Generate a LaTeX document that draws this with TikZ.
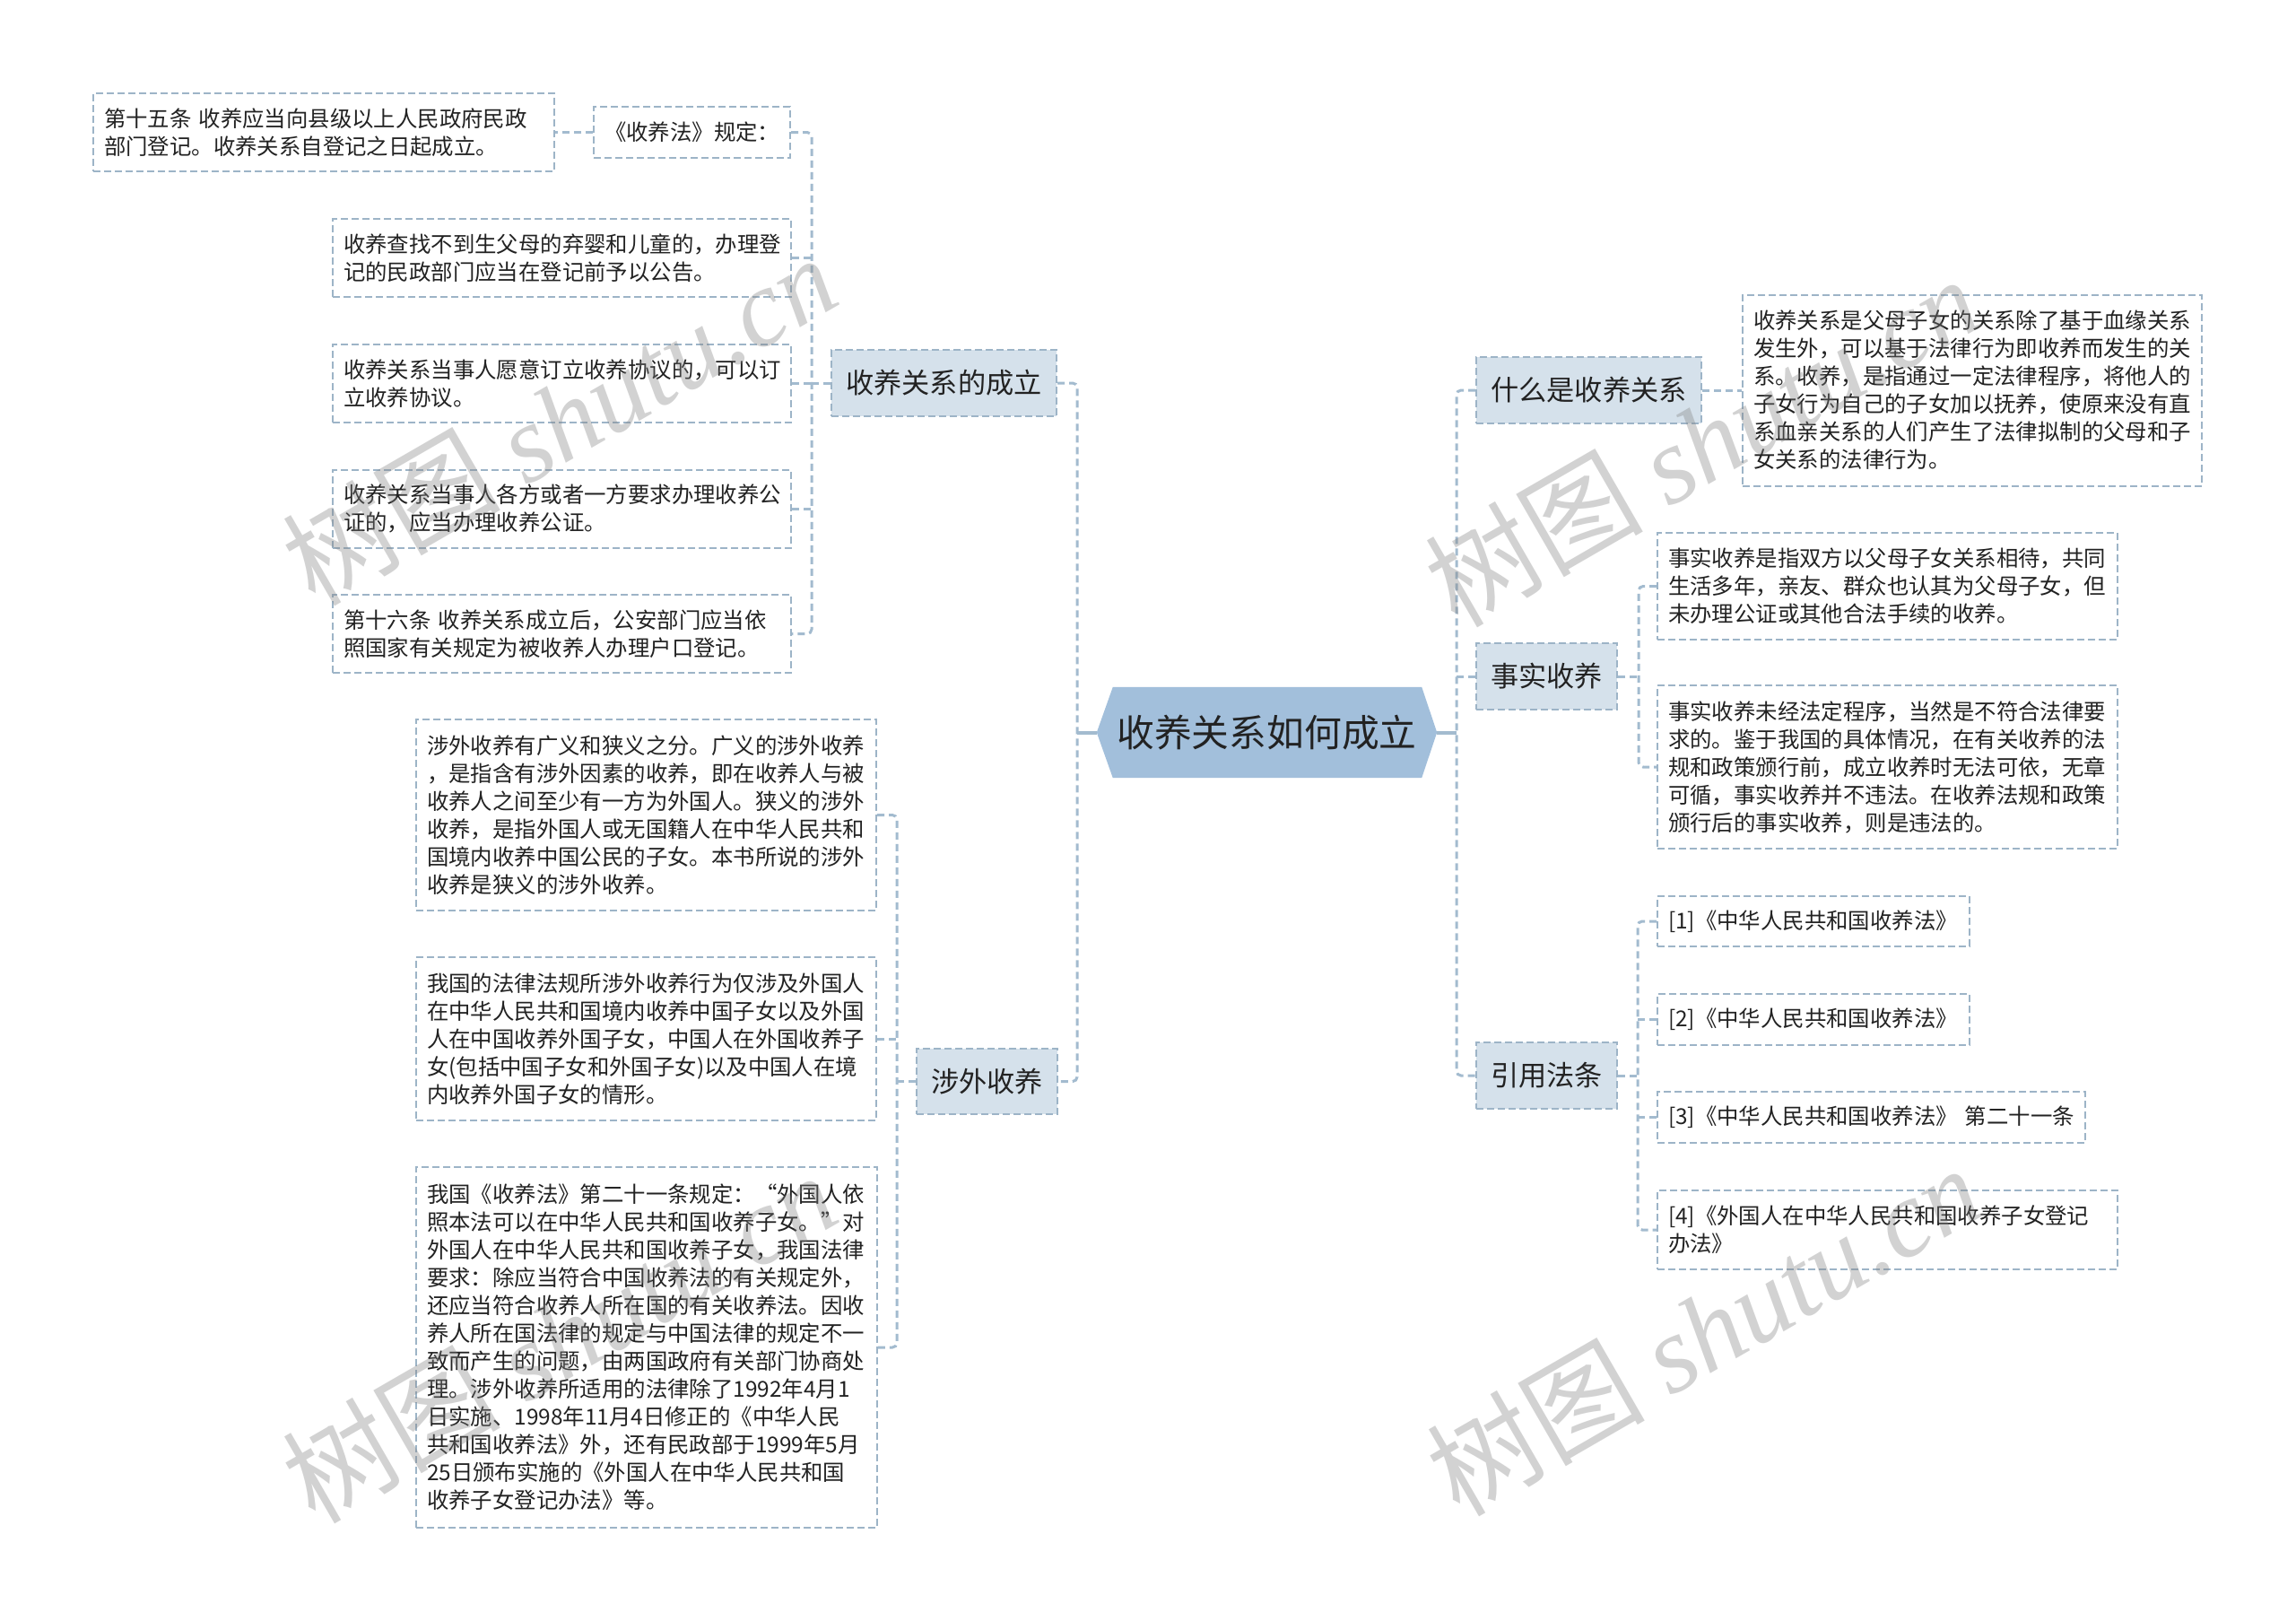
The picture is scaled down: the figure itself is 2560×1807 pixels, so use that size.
\documentclass[tikz,border=0pt]{standalone}
\usepackage{fontspec}
\setmainfont{Noto Sans CJK SC}
\newfontfamily\wmcjk{Noto Sans CJK SC}
\newfontfamily\wmlatin{Liberation Serif}
\usetikzlibrary{backgrounds}
\definecolor{linkc}{HTML}{A3BBCF}
\definecolor{boxc}{HTML}{9DB4C7}
\definecolor{lvfill}{HTML}{D5E1EB}
\definecolor{rootfill}{HTML}{A2BFDB}
\definecolor{txt}{HTML}{222222}
\begin{document}
\begin{tikzpicture}[x=1pt,y=-1pt,
  link/.style={draw=linkc, line width=3pt, dash pattern=on 8pt off 5pt, rounded corners=5pt},
  rootlink/.style={draw=linkc, line width=4pt},
  leaf/.style={draw=boxc, line width=2pt, dash pattern=on 8pt off 4pt, fill=white, inner xsep=12pt, inner ysep=0pt, align=left, text=txt, font=\fontsize{24.4}{31}\selectfont},
  lvone/.style={draw=boxc, line width=2pt, dash pattern=on 8pt off 4pt, fill=lvfill, inner sep=0pt, text=txt, font=\fontsize{31.2}{38}\selectfont},
  rootnode/.style={inner sep=0pt, text=txt, font=\fontsize{41.8}{50}\selectfont},
  wm/.style={text=black!50, opacity=0.35, rotate=30, anchor=base west, inner sep=0pt, font=\fontsize{122}{122}\selectfont}
]
\useasboundingbox (0,0) rectangle (2560,1807);

% root
\node[rootnode, minimum width=379pt, minimum height=101pt] (root) at (1412.5,816.5) {收养关系如何成立};
\begin{scope}[on background layer]
\fill[white] (0,0) rectangle (2560,1807);
\fill[rootfill] (root.west) -- ([xshift=18pt]root.north west) -- ([xshift=-17pt]root.north east) -- (root.east) -- ([xshift=-17pt]root.south east) -- ([xshift=18pt]root.south west) -- cycle;
\end{scope}

% level one
\node[lvone, minimum width=251pt, minimum height=74pt] (A) at (1052.5,427) {收养关系的成立};
\node[lvone, minimum width=157pt, minimum height=73pt] (B) at (1100.5,1205.5) {涉外收养};
\node[lvone, minimum width=251pt, minimum height=74pt] (C) at (1771.5,435) {什么是收养关系};
\node[lvone, minimum width=157pt, minimum height=74pt] (D) at (1724.5,754) {事实收养};
\node[lvone, minimum width=157pt, minimum height=74pt] (E) at (1724.5,1199) {引用法条};

% leaves of A
\node[leaf, minimum width=219pt, minimum height=57pt, text width=195pt] (a1) at (771.5,147.5) {《收养法》规定：};
\node[leaf, minimum width=514pt, minimum height=87pt, text width=490pt] (a1x) at (361,147.5) {第十五条~收养应当向县级以上人民政府民政\\部门登记。收养关系自登记之日起成立。};
\node[leaf, minimum width=511pt, minimum height=87pt, text width=487pt] (a2) at (626.5,287.5) {收养查找不到生父母的弃婴和儿童的，办理登\\记的民政部门应当在登记前予以公告。};
\node[leaf, minimum width=511pt, minimum height=87pt, text width=487pt] (a3) at (626.5,427.5) {收养关系当事人愿意订立收养协议的，可以订\\立收养协议。};
\node[leaf, minimum width=511pt, minimum height=87pt, text width=487pt] (a4) at (626.5,567) {收养关系当事人各方或者一方要求办理收养公\\证的，应当办理收养公证。};
\node[leaf, minimum width=511pt, minimum height=87pt, text width=487pt] (a5) at (626.5,706.5) {第十六条~收养关系成立后，公安部门应当依\\照国家有关规定为被收养人办理户口登记。};

% leaves of B
\node[leaf, minimum width=513pt, minimum height=213pt, text width=489pt] (b1) at (720.5,908.5) {涉外收养有广义和狭义之分。广义的涉外收养\\，是指含有涉外因素的收养，即在收养人与被\\收养人之间至少有一方为外国人。狭义的涉外\\收养，是指外国人或无国籍人在中华人民共和\\国境内收养中国公民的子女。本书所说的涉外\\收养是狭义的涉外收养。};
\node[leaf, minimum width=513pt, minimum height=182pt, text width=489pt] (b2) at (720.5,1158) {我国的法律法规所涉外收养行为仅涉及外国人\\在中华人民共和国境内收养中国子女以及外国\\人在中国收养外国子女，中国人在外国收养子\\女(包括中国子女和外国子女)以及中国人在境\\内收养外国子女的情形。};
\node[leaf, minimum width=514pt, minimum height=402pt, text width=490pt] (b3) at (721,1502) {我国《收养法》第二十一条规定：“外国人依\\照本法可以在中华人民共和国收养子女。”对\\外国人在中华人民共和国收养子女，我国法律\\要求：除应当符合中国收养法的有关规定外，\\还应当符合收养人所在国的有关收养法。因收\\养人所在国法律的规定与中国法律的规定不一\\致而产生的问题，由两国政府有关部门协商处\\理。涉外收养所适用的法律除了1992年4月1\\日实施、1998年11月4日修正的《中华人民\\共和国收养法》外，还有民政部于1999年5月\\25日颁布实施的《外国人在中华人民共和国\\收养子女登记办法》等。};

% leaf of C
\node[leaf, minimum width=512pt, minimum height=213pt, text width=488pt] (c1) at (2199,435) {收养关系是父母子女的关系除了基于血缘关系\\发生外，可以基于法律行为即收养而发生的关\\系。收养，是指通过一定法律程序，将他人的\\子女行为自己的子女加以抚养，使原来没有直\\系血亲关系的人们产生了法律拟制的父母和子\\女关系的法律行为。};

% leaves of D
\node[leaf, minimum width=513pt, minimum height=119pt, text width=489pt] (d1) at (2104.5,653.5) {事实收养是指双方以父母子女关系相待，共同\\生活多年，亲友、群众也认其为父母子女，但\\未办理公证或其他合法手续的收养。};
\node[leaf, minimum width=513pt, minimum height=182pt, text width=489pt] (d2) at (2104.5,855) {事实收养未经法定程序，当然是不符合法律要\\求的。鉴于我国的具体情况，在有关收养的法\\规和政策颁行前，成立收养时无法可依，无章\\可循，事实收养并不违法。在收养法规和政策\\颁行后的事实收养，则是违法的。};

% leaves of E
\node[leaf, minimum width=348pt, minimum height=56pt, text width=324pt] (e1) at (2022,1027) {[1]《中华人民共和国收养法》};
\node[leaf, minimum width=348pt, minimum height=57pt, text width=324pt] (e2) at (2022,1136.5) {[2]《中华人民共和国收养法》};
\node[leaf, minimum width=477pt, minimum height=57pt, text width=453pt] (e3) at (2086.5,1245.5) {[3]《中华人民共和国收养法》~第二十一条};
\node[leaf, minimum width=513pt, minimum height=88pt, text width=489pt] (e4) at (2104.5,1371) {[4]《外国人在中华人民共和国收养子女登记\\办法》};

% junctions
\coordinate (jL) at (1201,816.5);
\coordinate (jR) at (1624,816.5);
\coordinate (ja) at (905,427);
\coordinate (jB) at (1000,1205.5);
\coordinate (jD) at (1827,754);
\coordinate (jE) at (1826,1199);

% root links
\draw[rootlink] (root.west) -- (jL);
\draw[rootlink] (root.east) -- (jR);
\draw[link] (A.east) -| (jL) |- (B.east);
\draw[link] (C.west) -| (jR) |- (E.west);
\draw[link] (D.west) -- (D.west -| jR);

% A children
\draw[link] (A.west) -- (ja);
\draw[link] (a1.east) -| (ja) |- (a5.east);
\draw[link] (a2.east) -- (a2.east -| ja);
\draw[link] (a3.east) -- (a3.east -| ja);
\draw[link] (a4.east) -- (a4.east -| ja);
\draw[link] (a1.west) -- (a1x.east);

% B children
\draw[link] (B.west) -- (jB);
\draw[link] (b1.east) -| (jB) |- (b3.east);
\draw[link] (b2.east) -- (b2.east -| jB);

% C child
\draw[link] (C.east) -- (c1.west);

% D children
\draw[link] (D.east) -- (jD);
\draw[link] (d1.west) -| (jD) |- (d2.west);

% E children
\draw[link] (E.east) -- (jE);
\draw[link] (e1.west) -| (jE) |- (e4.west);
\draw[link] (e2.west) -- (e2.west -| jE);
\draw[link] (e3.west) -- (e3.west -| jE);

% watermarks
\node[wm] (w1) at (351,678) {\wmcjk 树图 {\wmlatin\itshape shutu.cn}};
\node[wm] (w2) at (1625,702) {\wmcjk 树图 {\wmlatin\itshape shutu.cn}};
\node[wm] (w3) at (351,1701) {\wmcjk 树图 {\wmlatin\itshape shutu.cn}};
\node[wm] (w4) at (1627,1693) {\wmcjk 树图 {\wmlatin\itshape shutu.cn}};
\end{tikzpicture}
\end{document}
